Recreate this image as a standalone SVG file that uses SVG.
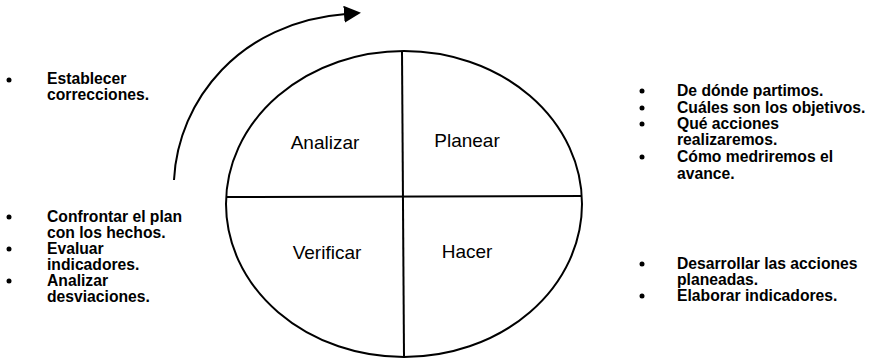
<svg xmlns="http://www.w3.org/2000/svg" width="869" height="361" viewBox="0 0 869 361">
<style>
.t{font-family:"Liberation Sans",Arial,sans-serif;font-size:15.7px;font-weight:bold;fill:#000}
.q{font-family:"Liberation Sans",Arial,sans-serif;font-size:19px;fill:#000;text-anchor:middle}
.s{fill:none;stroke:#000;stroke-width:2}
.b{fill:#000}
</style>
<defs>
<marker id="ah" markerWidth="17" markerHeight="17" refX="2" refY="8.5" orient="auto" markerUnits="userSpaceOnUse">
<path d="M0,0 L17,8.5 L0,17 Z" fill="#000"/>
</marker>
</defs>
<g id="cycle">
<ellipse class="s" cx="404" cy="204" rx="178" ry="153"/>
</g>
<g id="dividers">
<line class="s" x1="402" y1="51" x2="404" y2="357"/>
<line class="s" x1="226" y1="197" x2="582" y2="196"/>
</g>
<g id="analizar"><text class="q" x="325" y="149">Analizar</text></g>
<g id="planear"><text class="q" x="467" y="147">Planear</text></g>
<g id="verificar"><text class="q" x="327" y="259">Verificar</text></g>
<g id="hacer"><text class="q" x="467" y="258">Hacer</text></g>
<g id="connectors">
<path class="s" d="M174,180 C178,100 240,22 346,14" marker-end="url(#ah)"/>
</g>
<g id="notes-analizar">
<circle class="b" cx="9" cy="80" r="2.5"/>
<text class="t" x="47" y="84">Establecer</text>
<text class="t" x="47" y="100">correcciones.</text>
</g>
<g id="notes-verificar">
<circle class="b" cx="9" cy="217" r="2.5"/>
<text class="t" x="47" y="222">Confrontar el plan</text>
<text class="t" x="47" y="238">con los hechos.</text>
<circle class="b" cx="9" cy="249" r="2.5"/>
<text class="t" x="47" y="254">Evaluar</text>
<text class="t" x="47" y="270">indicadores.</text>
<circle class="b" cx="9" cy="281" r="2.5"/>
<text class="t" x="47" y="286">Analizar</text>
<text class="t" x="47" y="302">desviaciones.</text>
</g>
<g id="notes-planear">
<circle class="b" cx="642" cy="91" r="2.5"/>
<text class="t" x="677" y="96">De dónde partimos.</text>
<circle class="b" cx="642" cy="108" r="2.5"/>
<text class="t" x="677" y="113">Cuáles son los objetivos.</text>
<circle class="b" cx="642" cy="124" r="2.5"/>
<text class="t" x="677" y="129">Qué acciones</text>
<text class="t" x="677" y="145">realizaremos.</text>
<circle class="b" cx="642" cy="157" r="2.5"/>
<text class="t" x="677" y="162">Cómo medriremos el</text>
<text class="t" x="677" y="179">avance.</text>
</g>
<g id="notes-hacer">
<circle class="b" cx="642" cy="264" r="2.5"/>
<text class="t" x="677" y="269">Desarrollar las acciones</text>
<text class="t" x="677" y="285">planeadas.</text>
<circle class="b" cx="642" cy="296" r="2.5"/>
<text class="t" x="677" y="301">Elaborar indicadores.</text>
</g>
</svg>
